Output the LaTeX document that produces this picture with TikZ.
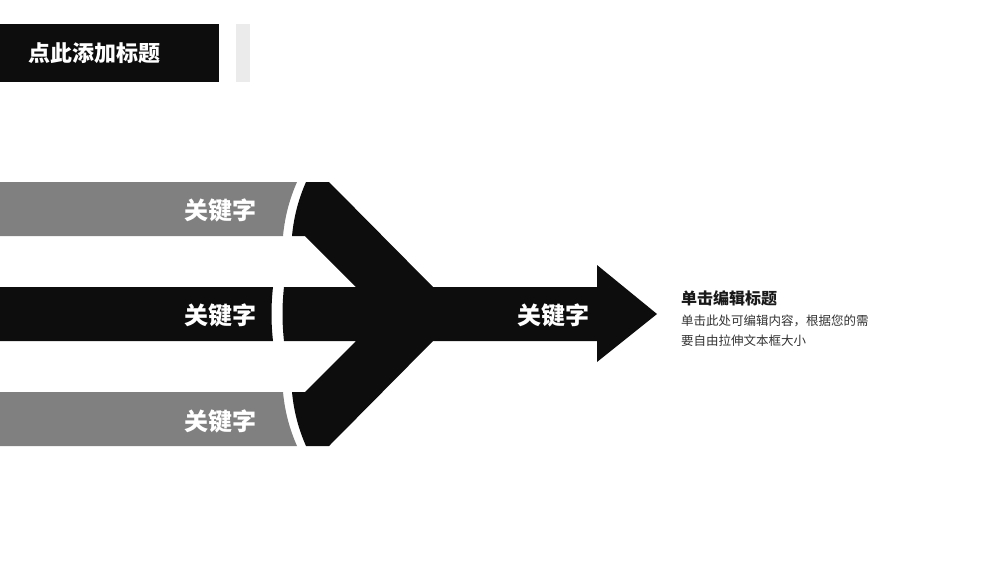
\documentclass[tikz,border=0pt]{standalone}
\usepackage{fontspec}
\newfontfamily\cjk{Noto Sans CJK SC}
\begin{document}
\begin{tikzpicture}[x=1pt,y=-1pt,
  kw/.style={text=white,font=\cjk\bfseries\fontsize{24}{26}\selectfont,inner sep=0pt},
  grayband/.style={fill=gray!100!black,fill=black!50},
  darkfill/.style={fill=black!95}]
\useasboundingbox (0,0) rectangle (1000,563);
\fill[darkfill] (0,24) rectangle (219,82);
\fill[black!8] (236,24) rectangle (250,82);
\node[text=white,font=\cjk\bfseries\fontsize{22}{24}\selectfont,anchor=west,inner sep=0pt] (title) at (28,53) {点此添加标题};
% gray bands
\fill[grayband] (0,182) -- (297,182) .. controls (290,198) and (285,215) .. (283,236) -- (0,236) -- cycle;
\fill[grayband] (0,392) -- (283,392) .. controls (285,413) and (290,430) .. (297,446) -- (0,446) -- cycle;
\fill[darkfill] (0,287) -- (273,287) .. controls (271,305) and (271,323) .. (273,341) -- (0,341) -- cycle;
% main arrow
\fill[darkfill] (306,182) -- (329,182) -- (433,287) -- (597,287) -- (597,265) -- (657,314) -- (597,362) -- (597,341) -- (433,341) -- (329,446) -- (306,446)
  .. controls (299,430) and (294,413) .. (292,392) -- (305,392) -- (356,341) -- (284,341)
  .. controls (282,323) and (282,305) .. (284,287) -- (356,287) -- (305,236) -- (292,236)
  .. controls (294,215) and (299,198) .. (306,182) -- cycle;
\node[kw] (k1) at (220,210) {关键字};
\node[kw] (k2) at (220,315) {关键字};
\node[kw] (k3) at (220,421) {关键字};
\node[kw] (k4) at (553,315) {关键字};
\node[anchor=west,inner sep=0pt,font=\cjk\bfseries\fontsize{16}{18}\selectfont,text=black!90] (ht) at (681,298) {单击编辑标题};
\node[anchor=west,inner sep=0pt,font=\cjk\fontsize{12.5}{14}\selectfont,text=black!80] (b1) at (681,321) {单击此处可编辑内容，根据您的需};
\node[anchor=west,inner sep=0pt,font=\cjk\fontsize{12.5}{14}\selectfont,text=black!80] (b2) at (681,341) {要自由拉伸文本框大小};
\end{tikzpicture}
\end{document}
